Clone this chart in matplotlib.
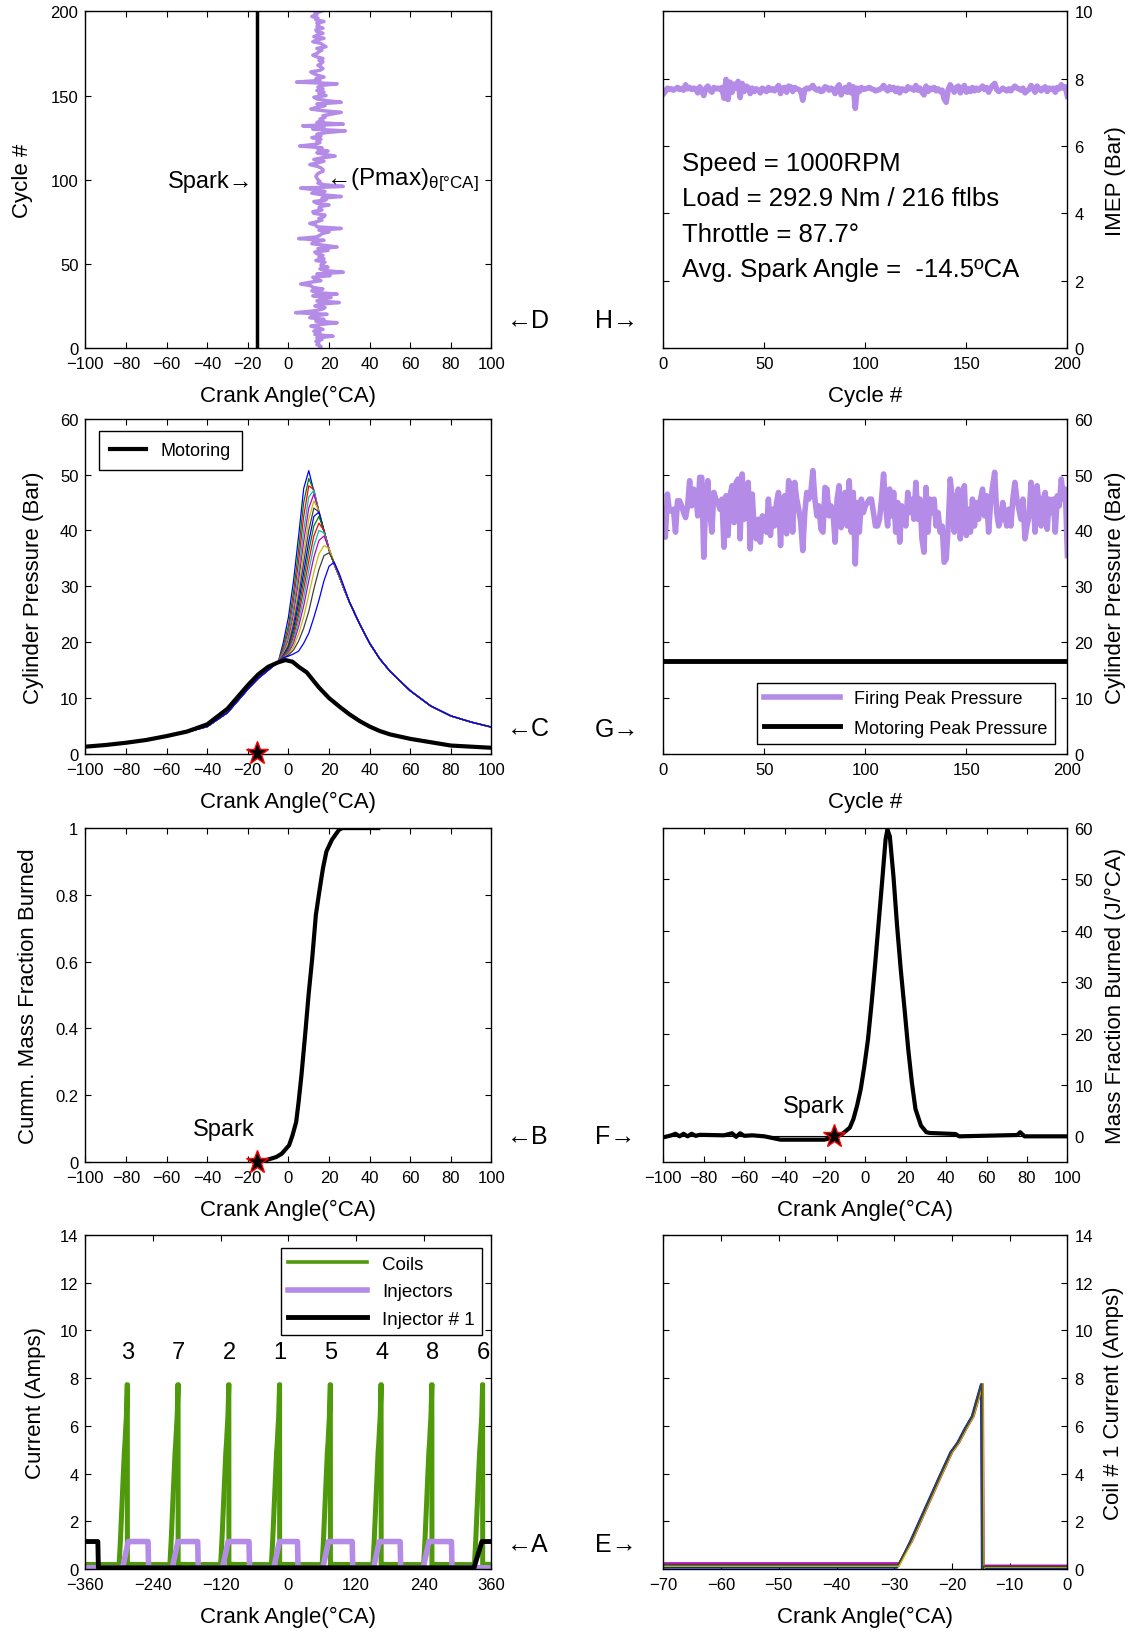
import numpy as np
import matplotlib
matplotlib.use('Agg')
import matplotlib.pyplot as plt

plt.rcParams['font.family'] = ['Liberation Sans', 'DejaVu Sans']
plt.rcParams['mathtext.fontset'] = 'custom'
plt.rcParams['mathtext.rm'] = 'Liberation Sans'
plt.rcParams['mathtext.it'] = 'Liberation Sans'

# ---------------- data ----------------
cycles = list(range(0, 201))

# peak pressure per cycle (bar)
pmax = [41.7, 38.8, 46.5, 43.5, 43.5, 43.8, 39.7, 45.3, 45.3, 44.4,
        43.2, 42.3, 44.4, 48.9, 44.4, 47.4, 46.8, 42.6, 49.5, 49.5,
        35.2, 45.6, 48.9, 43.2, 39.7, 46.8, 45.6, 45.0, 43.8, 45.6,
        37.0, 46.2, 39.1, 46.2, 48.0, 41.4, 48.6, 49.2, 38.5, 50.1,
        42.0, 46.8, 48.6, 36.7, 46.5, 39.7, 38.5, 42.0, 37.9, 42.6,
        42.0, 39.7, 45.6, 39.1, 43.8, 40.8, 45.0, 46.8, 37.3, 45.6,
        46.2, 39.4, 48.9, 48.0, 39.7, 48.6, 45.6, 43.8, 41.4, 36.4,
        43.2, 46.8, 45.6, 46.8, 50.7, 45.6, 42.6, 44.4, 40.2, 39.7,
        47.7, 47.4, 42.6, 44.4, 43.2, 37.9, 45.6, 48.0, 40.5, 42.6,
        46.8, 40.8, 48.9, 39.7, 46.8, 34.0, 45.0, 39.7, 45.6, 43.2,
        44.4, 45.0, 45.6, 45.6, 43.2, 40.8, 40.8, 42.0, 45.6, 50.1,
        44.4, 40.8, 47.4, 42.6, 46.8, 39.7, 45.0, 37.9, 44.4, 42.6,
        40.8, 46.8, 43.2, 45.6, 42.0, 48.6, 42.0, 45.6, 38.5, 36.1,
        47.7, 39.7, 45.6, 43.2, 45.6, 40.8, 43.2, 39.7, 40.8, 34.3,
        34.9, 40.8, 49.2, 45.6, 39.7, 45.6, 47.4, 38.5, 45.6, 48.0,
        39.1, 43.8, 39.7, 45.6, 40.8, 45.0, 42.0, 45.6, 47.4, 42.6,
        46.2, 39.7, 45.0, 48.0, 50.4, 43.2, 40.8, 42.0, 45.0, 42.6,
        40.8, 43.8, 40.8, 45.6, 48.6, 45.6, 43.8, 42.0, 45.6, 38.5,
        40.8, 42.6, 48.6, 45.6, 39.7, 48.0, 44.4, 40.8, 45.6, 46.8,
        40.2, 45.6, 43.2, 45.6, 39.7, 46.2, 44.4, 49.2, 45.6, 47.4,
        35.5]
motoring_peak = 16.7

# IMEP per cycle (bar)
imep = [7.55, 7.62, 7.72, 7.68, 7.70, 7.66, 7.70, 7.74, 7.68, 7.71,
        7.66, 7.82, 7.70, 7.74, 7.68, 7.72, 7.70, 7.58, 7.76, 7.64,
        7.50, 7.72, 7.78, 7.66, 7.60, 7.74, 7.70, 7.72, 7.68, 7.74,
        7.42, 7.98, 7.38, 7.90, 7.60, 7.84, 7.72, 7.92, 7.44, 7.86,
        7.62, 7.78, 7.74, 7.56, 7.72, 7.62, 7.70, 7.66, 7.58, 7.72,
        7.68, 7.62, 7.74, 7.66, 7.70, 7.64, 7.72, 7.80, 7.56, 7.72,
        7.74, 7.60, 7.78, 7.76, 7.62, 7.74, 7.70, 7.68, 7.64, 7.36,
        7.68, 7.72, 7.70, 7.74, 7.80, 7.70, 7.66, 7.70, 7.62, 7.64,
        7.76, 7.74, 7.66, 7.72, 7.68, 7.56, 7.74, 7.82, 7.52, 7.66,
        7.74, 7.60, 7.82, 7.58, 7.76, 7.12, 7.72, 7.62, 7.74, 7.68,
        7.70, 7.72, 7.74, 7.70, 7.68, 7.64, 7.66, 7.68, 7.72, 7.80,
        7.70, 7.64, 7.76, 7.68, 7.74, 7.62, 7.72, 7.58, 7.70, 7.68,
        7.64, 7.76, 7.70, 7.72, 7.66, 7.80, 7.66, 7.72, 7.60, 7.52,
        7.78, 7.62, 7.72, 7.68, 7.74, 7.64, 7.70, 7.62, 7.66, 7.40,
        7.30, 7.68, 7.82, 7.72, 7.60, 7.74, 7.78, 7.58, 7.72, 7.80,
        7.60, 7.70, 7.62, 7.74, 7.64, 7.72, 7.66, 7.72, 7.78, 7.68,
        7.74, 7.60, 7.72, 7.80, 7.86, 7.68, 7.62, 7.66, 7.72, 7.68,
        7.64, 7.70, 7.64, 7.72, 7.78, 7.72, 7.70, 7.66, 7.72, 7.58,
        7.64, 7.68, 7.80, 7.72, 7.60, 7.78, 7.70, 7.64, 7.72, 7.76,
        7.62, 7.72, 7.68, 7.72, 7.60, 7.74, 7.70, 7.82, 7.72, 7.76,
        7.48]

# crank angle of peak pressure per cycle
theta_pmax = [15.5, 16.0, 14.0, 15.0, 13.5, 16.5, 14.0, 22.0, 13.0, 15.5,
              12.5, 17.0, 14.5, 11.0, 16.0, 24.0, 13.5, 17.5, 10.5, 12.0,
              19.0, 3.5, 12.5, 16.5, 18.0, 13.0, 15.5, 25.0, 14.0, 16.0,
              21.0, 12.0, 24.0, 13.5, 11.5, 17.0, 12.0, 11.0, 6.0, 10.5,
              16.0, 13.0, 12.0, 20.5, 14.0, 27.0, 18.0, 15.5, 19.5, 16.0,
              16.5, 18.0, 13.5, 17.5, 15.0, 17.0, 14.0, 13.0, 19.5, 14.5,
              24.0, 17.5, 11.5, 12.5, 17.5, 5.0, 14.0, 15.5, 16.5, 20.0,
              15.0, 26.0, 14.0, 13.5, 10.5, 14.0, 16.5, 15.0, 17.5, 18.0,
              12.5, 12.0, 16.5, 15.0, 15.5, 20.0, 14.0, 12.5, 18.5, 16.5,
              26.0, 17.0, 11.5, 18.0, 13.5, 6.0, 27.0, 17.5, 14.5, 15.5,
              14.5, 14.0, 13.5, 14.0, 15.0, 17.0, 17.0, 16.0, 14.0, 10.5,
              14.5, 17.5, 12.5, 16.5, 23.0, 18.0, 14.0, 19.5, 14.5, 16.5,
              5.5, 13.0, 15.5, 14.0, 16.0, 11.5, 16.0, 14.0, 18.5, 28.0,
              12.0, 17.5, 7.0, 27.0, 14.0, 17.0, 15.5, 18.0, 17.0, 21.0,
              26.0, 17.0, 11.0, 14.0, 18.0, 14.0, 26.0, 18.5, 14.0, 12.5,
              18.5, 15.0, 17.5, 14.0, 17.0, 14.5, 16.0, 24.0, 4.0, 15.5,
              13.5, 17.5, 14.5, 12.5, 11.0, 15.5, 17.0, 16.0, 14.5, 16.0,
              17.0, 15.0, 17.0, 14.0, 12.0, 14.0, 15.0, 16.5, 14.0, 18.5,
              17.0, 16.0, 12.0, 14.0, 17.5, 12.5, 14.5, 17.0, 14.0, 13.5,
              17.0, 14.0, 15.0, 14.0, 17.5, 13.5, 14.5, 11.5, 14.0, 13.0,
              16.0]

spark_angle = -15.5

# cylinder pressure traces: shared compression, per-cycle combustion, shared expansion
comp_angle = [-100, -90, -80, -70, -60, -50, -40, -30, -20, -15, -10, -5]
comp_p = [1.4, 1.6, 2.0, 2.5, 3.2, 3.9, 4.9, 7.4, 11.6, 13.5, 15.0, 16.5]
comb_angle = [-2.5, 0, 2.5, 5, 7.5, 10, 12.5, 15, 17.5, 20, 22.5, 25, 27.5]
comb_p = [
    [20.0, 24.5, 31.0, 39.0, 47.5, 50.7, 47.0, 43.3, 39.8, 36.5, 34.0, 31.8, 29.4],
    [19.3, 23.0, 29.0, 36.5, 45.0, 49.3, 47.2, 43.3, 39.8, 36.5, 34.0, 31.8, 29.4],
    [18.8, 22.0, 27.5, 34.5, 42.5, 48.0, 47.3, 43.3, 39.8, 36.5, 34.0, 31.8, 29.4],
    [18.4, 21.2, 26.2, 32.5, 40.0, 46.0, 47.2, 43.4, 39.8, 36.5, 34.0, 31.8, 29.4],
    [18.1, 20.5, 25.0, 31.0, 38.0, 44.0, 46.5, 43.4, 39.8, 36.5, 34.0, 31.8, 29.4],
    [17.9, 20.0, 24.0, 29.5, 36.0, 42.0, 45.3, 43.5, 39.9, 36.5, 34.0, 31.8, 29.4],
    [17.7, 19.5, 23.2, 28.2, 34.2, 40.0, 44.0, 43.3, 39.9, 36.5, 34.0, 31.8, 29.4],
    [17.6, 19.1, 22.4, 27.0, 32.5, 38.0, 42.5, 43.3, 40.0, 36.6, 34.0, 31.8, 29.4],
    [17.5, 18.8, 21.7, 25.8, 31.0, 36.3, 40.8, 42.5, 40.0, 36.6, 34.0, 31.8, 29.4],
    [17.4, 18.5, 21.0, 24.8, 29.5, 34.5, 39.0, 41.3, 40.0, 36.7, 34.0, 31.8, 29.4],
    [17.3, 18.3, 20.4, 23.8, 28.0, 32.8, 37.2, 40.0, 39.6, 36.7, 34.1, 31.8, 29.4],
    [17.3, 18.1, 19.8, 22.8, 26.5, 31.0, 35.2, 38.2, 39.0, 36.7, 34.1, 31.8, 29.4],
    [17.2, 17.9, 19.2, 21.5, 24.5, 28.5, 32.5, 35.8, 37.3, 36.8, 34.2, 31.9, 29.5],
    [17.2, 17.7, 18.6, 20.2, 22.5, 25.5, 29.5, 33.0, 35.5, 36.0, 34.3, 32.0, 29.6],
    [17.2, 17.5, 17.9, 18.4, 19.8, 21.6, 24.4, 27.5, 31.0, 33.6, 34.3, 32.3, 29.8],
]
exp_angle = [30, 35, 40, 45, 50, 60, 70, 80, 90, 100]
exp_p = [27.2, 23.3, 19.8, 17.0, 14.8, 11.3, 8.6, 6.8, 5.7, 4.8]

mot_angle = [-100, -90, -80, -70, -60, -50, -40, -30, -20, -15, -10, -5, -1.5, 2, 5, 9,
             15, 20, 25, 30, 35, 40, 45, 50, 60, 70, 80, 90, 100]
mot_p = [1.3, 1.6, 2.0, 2.5, 3.2, 4.0, 5.3, 8.1, 12.3, 14.2, 15.6, 16.4, 16.8, 16.5, 15.6, 14.6,
         11.9, 10.0, 8.5, 7.1, 5.9, 4.9, 4.1, 3.5, 2.7, 2.1, 1.5, 1.3, 1.1]

# cumulative mass fraction burned
mfb_angle = [-15.5, -10.3, -6, -3.3, 0.3, 2, 3.8, 5, 6.4, 8.2, 9.9, 11.7, 13.5, 15.2,
             17, 18.7, 21.4, 24.9, 26.6, 44.2]
mfb = [0.0, 0.007, 0.015, 0.025, 0.05, 0.08, 0.12, 0.18, 0.26, 0.38, 0.5, 0.61, 0.74, 0.81,
       0.88, 0.93, 0.965, 0.995, 1.0, 1.0]

# heat release rate (J/deg CA)
hrr_angle = [-100, -96, -94, -92, -90, -88, -86, -84, -82, -70, -66, -64, -62, -60, -56, -50,
             -42, -30, -20.3, -15.8, -12, -10.4, -7.7, -5.9, -4.1, -2.3, -0.5, 1.3, 3.1, 4.9,
             6.7, 8.5, 10, 10.9, 12.1, 13.9, 15.7, 17.5, 19.4, 21.2, 23, 24.8, 27.5, 30.2,
             32, 44.6, 46.4, 75.2, 76.6, 78.8, 100]
hrr = [-0.2, 0.2, 0.5, 0.0, 0.5, 0.0, 0.5, 0.1, 0.3, 0.2, 0.6, -0.1, 0.6, 0.1, 0.2, 0.0,
       -0.65, -0.65, -0.65, -0.2, 0.3, 0.8, 1.7, 3.4, 6.0, 9.2, 13.7, 18.9, 26.0, 33.8,
       42.2, 50.6, 57.8, 59.7, 58.4, 50.6, 40.9, 32.5, 24.7, 17.0, 10.5, 5.3, 2.1, 0.8,
       0.65, 0.45, 0.0, 0.26, 0.8, 0.0, 0.0]

# coil / injector currents
firing_order = ['3', '7', '2', '1', '5', '4', '8', '6']
coil_fire = [-284.5, -194.5, -104.5, -14.5, 75.5, 165.5, 255.5, 345.5]
coil_jitter = [0.0, -2.5]
coil_rel = [-14.5, -12.3, -9.8, -7.2, -5.3, -4.1, -2.8, -1.6, -0.3, 0.0, 0.15]
coil_amps = [0.2, 1.15, 2.5, 3.9, 4.9, 5.3, 5.9, 6.4, 7.5, 7.75, 0.0]
inj_on = [-294, -206, -117, -26, 61, 151, 239]
inj_off = [-249, -161, -70, 16, 113, 198, 289]
inj_amps = 1.15
inj1_on, inj1_off = 329, -338

# coil #1 traces (zoomed)
coil1_fire = -14.7
coil1_shift = [-0.3, -0.2, -0.1, 0.0, 0.1, 0.05, -0.15]
coil1_base = [0.05, 0.10, 0.15, 0.20, 0.25, 0.12, 0.18]

mcol = ['#0000ff', '#008000', '#ff0000', '#00bfbf', '#bf00bf', '#bfbf00', '#404040']
purple = '#b48be6'
green = '#4e9a0a'

fig = plt.figure(figsize=(11.33, 16.33), dpi=100)
L = [0.0754, 0.3584]
R = [0.5855, 0.3566]
rows = [(0.7863, 0.2061), (0.5377, 0.2053), (0.2878, 0.2045), (0.0386, 0.2045)]


def style(ax, right=False):
    ax.tick_params(direction='in', length=4, top=True, right=True, left=True,
                   labelsize=12, width=0.8)
    ax.tick_params(axis='x', pad=6)
    ax.tick_params(axis='y', pad=5)
    if right:
        ax.tick_params(labelleft=False, labelright=True)
    for s in ax.spines.values():
        s.set_linewidth(1.0)


def labels(ax, xl, yl, right=False, ypos=-0.14):
    ax.set_xlabel(xl, fontsize=16)
    ax.xaxis.set_label_coords(0.5, -0.11)
    if right:
        ax.yaxis.set_label_position('right')
    ax.set_ylabel(yl, fontsize=16)
    ax.yaxis.set_label_coords(ypos, 0.5)
    ax.yaxis.label.set_va('center')


def box_legend(ax, **kw):
    leg = ax.legend(borderaxespad=0, fancybox=False, edgecolor='k', framealpha=1, **kw)
    leg.get_frame().set_linewidth(1.0)


ca = 'Crank Angle(°CA)'

# D
ax = fig.add_axes([L[0], rows[0][0], L[1], rows[0][1]])
ax.plot(theta_pmax, cycles, color=purple, lw=2.5)
ax.plot([spark_angle, spark_angle], [0, 200], color='k', lw=2.5)
ax.set_xlim(-100, 100)
ax.set_ylim(0, 200)
ax.set_xticks(range(-100, 101, 20))
ax.set_yticks(range(0, 201, 50))
ax.text(-17.5, 99, 'Spark→', fontsize=17, ha='right', va='center')
ax.text(18.5, 100, '←(Pmax)$_{\\mathrm{θ[°CA]}}$', fontsize=17.5, ha='left', va='center')
style(ax)
labels(ax, ca, 'Cycle #', ypos=-0.154)

# H
ax = fig.add_axes([R[0], rows[0][0], R[1], rows[0][1]])
ax.plot(cycles, imep, color=purple, lw=4)
ax.set_xlim(0, 200)
ax.set_ylim(0, 10)
ax.set_xticks(range(0, 201, 50))
ax.set_yticks(range(0, 11, 2))
info = ['Speed = 1000RPM', 'Load = 292.9 Nm / 216 ftlbs', 'Throttle = 87.7°',
        'Avg. Spark Angle =  -14.5ºCA']
for i, t in enumerate(info):
    ax.text(9, 5.5 - 1.05 * i, t, fontsize=18.5, ha='left', va='center')
style(ax, True)
labels(ax, 'Cycle #', 'IMEP (Bar)', True, ypos=1.12)

# C
ax = fig.add_axes([L[0], rows[1][0], L[1], rows[1][1]])
for i, tr in enumerate(comb_p):
    ax.plot(comp_angle + comb_angle + exp_angle, comp_p + tr + exp_p,
            color=mcol[i % len(mcol)], lw=0.9)
ax.plot(mot_angle, mot_p, color='k', lw=3, label='Motoring')
ax.plot([spark_angle], [0.2], marker='*', ms=17, mfc='k', mec='r', mew=1,
        clip_on=False, zorder=10)
ax.set_xlim(-100, 100)
ax.set_ylim(0, 60)
ax.set_xticks(range(-100, 101, 20))
ax.set_yticks(range(0, 61, 10))
box_legend(ax, loc='upper left', bbox_to_anchor=(0.034, 0.962), fontsize=13,
           handlelength=2.0, borderpad=0.6)
style(ax)
labels(ax, ca, 'Cylinder Pressure (Bar)', ypos=-0.127)

# G
ax = fig.add_axes([R[0], rows[1][0], R[1], rows[1][1]])
ax.plot(cycles, pmax, color=purple, lw=4, label='Firing Peak Pressure')
ax.plot([cycles[1], cycles[-1]], [motoring_peak, motoring_peak], color='k', lw=3.5,
        label='Motoring Peak Pressure')
ax.set_xlim(0, 200)
ax.set_ylim(0, 60)
ax.set_xticks(range(0, 201, 50))
ax.set_yticks(range(0, 61, 10))
box_legend(ax, loc='lower right', bbox_to_anchor=(0.969, 0.03), fontsize=13,
           handlelength=4.2, labelspacing=0.7)
style(ax, True)
labels(ax, 'Cycle #', 'Cylinder Pressure (Bar)', True, ypos=1.119)

# B
ax = fig.add_axes([L[0], rows[2][0], L[1], rows[2][1]])
ax.plot(mfb_angle, mfb, color='k', lw=3)
ax.plot([spark_angle], [0.0], marker='*', ms=17, mfc='k', mec='r', mew=1,
        clip_on=False, zorder=10)
ax.text(-32, 0.1, 'Spark', fontsize=17, ha='center', va='center')
ax.set_xlim(-100, 100)
ax.set_ylim(0, 1)
ax.set_xticks(range(-100, 101, 20))
ax.set_yticks([0, 0.2, 0.4, 0.6, 0.8, 1])
ax.set_yticklabels(['0', '0.2', '0.4', '0.6', '0.8', '1'])
style(ax)
labels(ax, ca, 'Cumm. Mass Fraction Burned', ypos=-0.141)

# F
ax = fig.add_axes([R[0], rows[2][0], R[1], rows[2][1]])
ax.plot([-100, 100], [0, 0], color='k', lw=0.8)
ax.plot(hrr_angle, hrr, color='k', lw=3)
ax.plot([spark_angle], [0.0], marker='*', ms=17, mfc='k', mec='r', mew=1, zorder=10)
ax.text(-25.5, 6, 'Spark', fontsize=17, ha='center', va='center')
ax.set_xlim(-100, 100)
ax.set_ylim(-5, 60)
ax.set_xticks(range(-100, 101, 20))
ax.set_yticks(range(0, 61, 10))
style(ax, True)
labels(ax, ca, 'Mass Fraction Burned (J/°CA)', True, ypos=1.119)

# A
ax = fig.add_axes([L[0], rows[3][0], L[1], rows[3][1]])
for j, dj in enumerate(coil_jitter):
    xs, ys = [-360], [0.22]
    for f in coil_fire:
        xs += [f + dj + r for r in coil_rel] + [f + dj + 3]
        ys += coil_amps + [0.22]
    xs.append(360)
    ys.append(0.22)
    ax.plot(xs, ys, color=green, lw=2.6, label='Coils' if j == 0 else None)
xs, ys = [-360], [0.05]
for on, off in zip(inj_on, inj_off):
    xs += [on, on + 10, off, off + 1]
    ys += [0.05, inj_amps, inj_amps, 0.05]
xs.append(360)
ys.append(0.05)
ax.plot(xs, ys, color=purple, lw=4, label='Injectors')
ax.plot([-360, inj1_off, inj1_off + 1, inj1_on, inj1_on + 14, 360],
        [inj_amps, inj_amps, 0.05, 0.05, inj_amps, inj_amps], color='k', lw=3.5,
        label='Injector # 1')
for f, n in zip(coil_fire, firing_order):
    ax.text(f, 9.1, n, fontsize=17, ha='center', va='center')
ax.set_xlim(-360, 360)
ax.set_ylim(0, 14)
ax.set_xticks(range(-360, 361, 120))
ax.set_yticks(range(0, 15, 2))
box_legend(ax, loc='upper right', bbox_to_anchor=(0.977, 0.961), fontsize=13.5,
           handlelength=4.2, labelspacing=0.55)
style(ax)
labels(ax, ca, 'Current (Amps)', ypos=-0.123)

# E
ax = fig.add_axes([R[0], rows[3][0], R[1], rows[3][1]])
for i, (sh, b) in enumerate(zip(coil1_shift, coil1_base)):
    f = coil1_fire + sh
    xs = [-70] + [f + r for r in coil_rel] + [f + 0.4, 0]
    ys = [b] + [b] + coil_amps[1:] + [b * 0.6, b * 0.6]
    ax.plot(xs, ys, color=mcol[i % len(mcol)], lw=1.2)
ax.set_xlim(-70, 0)
ax.set_ylim(0, 14)
ax.set_xticks(range(-70, 1, 10))
ax.set_yticks(range(0, 15, 2))
style(ax, True)
labels(ax, ca, 'Coil # 1 Current (Amps)', True, ypos=1.115)

# panel letters
for x, y, t in [(507, 321, '←D'), (595, 321, 'H→'), (507, 729, '←C'), (595, 730, 'G→'),
                (507, 1137, '←B'), (595, 1137, 'F→'), (507, 1545, '←A'), (595, 1545, 'E→')]:
    fig.text(x / 1133, 1 - y / 1633, t, fontsize=18, ha='left', va='center')

fig.savefig('out.png', dpi=100)
